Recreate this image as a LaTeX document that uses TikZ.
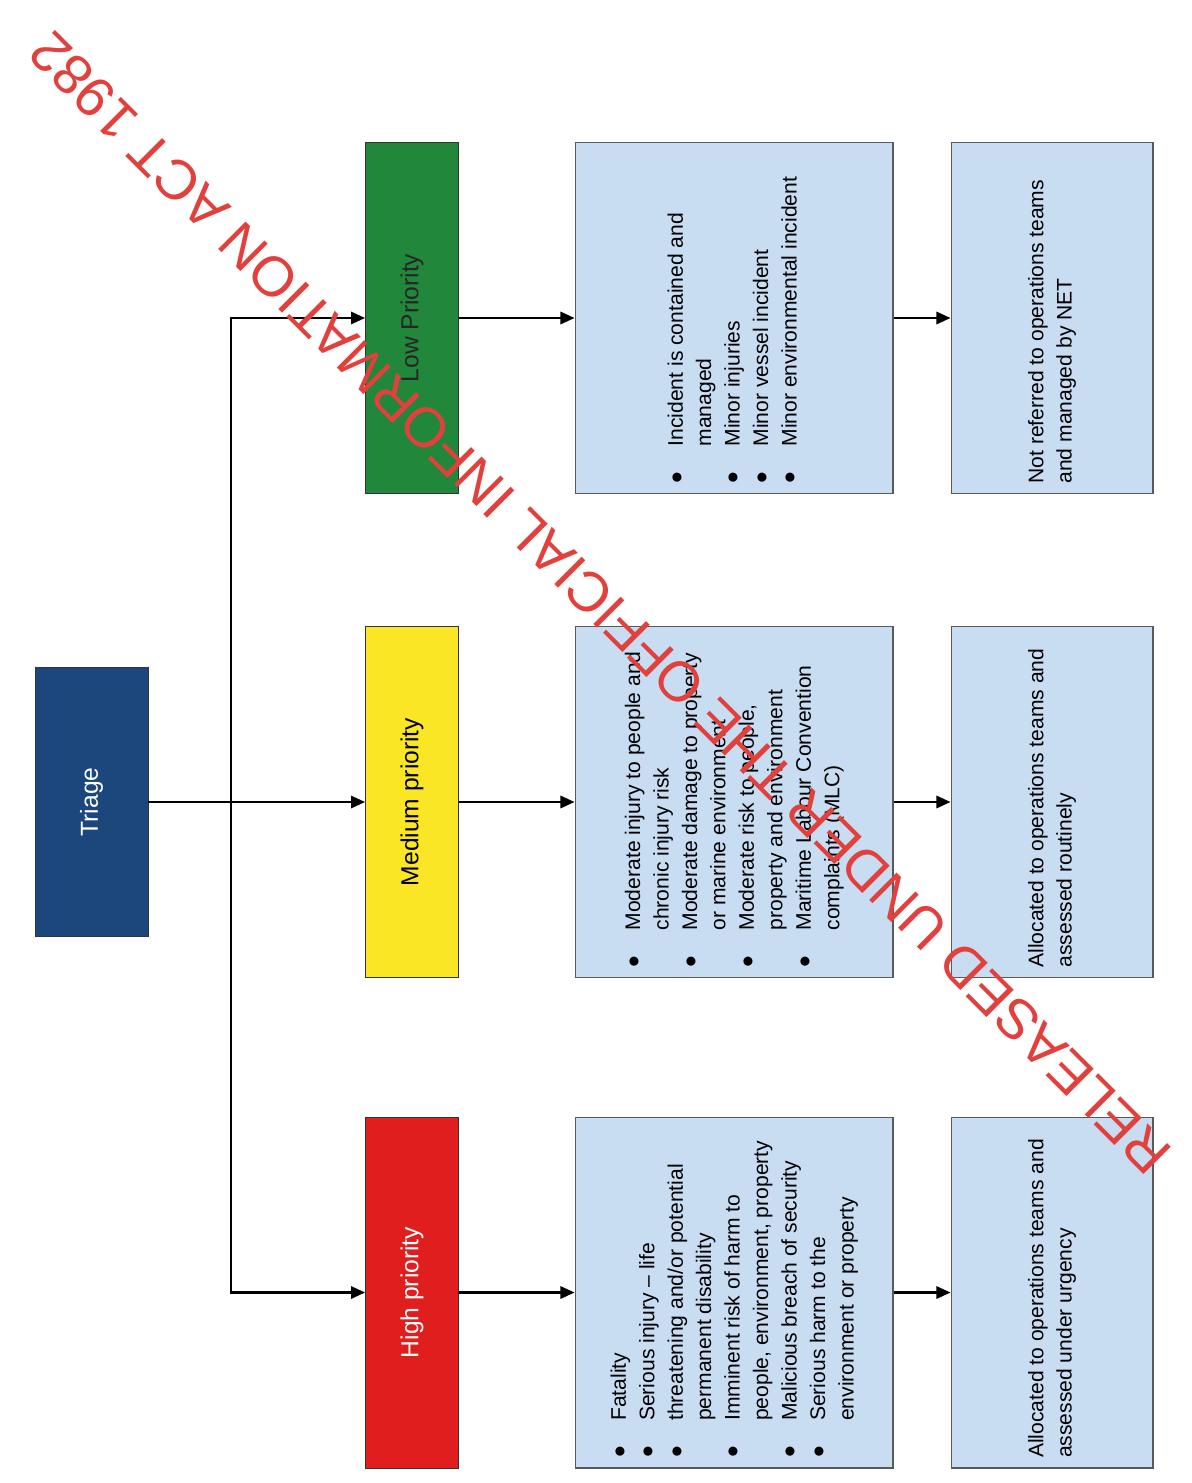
\documentclass[tikz,border=0pt]{standalone}
\usepackage{fontspec}
\setmainfont{Liberation Sans}
\usepackage{graphicx}
\usetikzlibrary{arrows.meta}

\definecolor{triageblue}{HTML}{1B477D}
\definecolor{lowgreen}{HTML}{21873A}
\definecolor{medyellow}{HTML}{FBE625}
\definecolor{highred}{HTML}{E01E1E}
\definecolor{paleblue}{HTML}{C8DCF2}
\definecolor{stampred}{HTML}{E2403C}

% text turned to read upwards
\newcommand{\uplabel}[1]{\rotatebox{90}{#1}}
\newcommand{\upnote}[1]{\rotatebox{90}{\parbox{6.62cm}{\fontsize{12}{16}\selectfont #1}}}
\newcommand{\uplist}[1]{\rotatebox{90}{\parbox{6.62cm}{\fontsize{12}{16.2}\selectfont
  \begin{tabular}{@{}l@{\hspace{14.5pt}}l@{}}#1\end{tabular}}}}
\newcommand{\bdot}{\raisebox{-3pt}[0pt][0pt]{\fontsize{19}{16}\selectfont\textbullet}}

\begin{document}
\begin{tikzpicture}[x=0.02cm,y=-0.02cm,
  prio/.style={draw=black!80,line width=0.5pt,minimum width=1.86cm,minimum height=7.02cm,
    inner sep=0pt,font=\fontsize{14}{16}\selectfont},
  listbox/.style={draw=black!65,fill=paleblue,line width=0.6pt,minimum width=6.36cm,
    minimum height=7.02cm,inner sep=0pt},
  notebox/.style={draw=black!65,fill=paleblue,line width=0.6pt,minimum width=4.04cm,
    minimum height=7.02cm,inner sep=0pt},
  link/.style={line width=1.3pt,-{Triangle[length=8pt,width=7pt]}},
  stamp/.style={text=stampred,font=\fontsize{32}{34}\selectfont,inner sep=0pt}]
\useasboundingbox (0,0) rectangle (1192,1483);

%triage
\node[draw=black!80,fill=triageblue,text=white,minimum width=2.26cm,minimum height=5.38cm,
  font=\fontsize{14}{16}\selectfont] (triage) at (91.5,802) {\uplabel{Triage}};

%priorities
\node[prio,fill=lowgreen,text=black!85] (low) at (412,318) {\uplabel{Low Priority}};
\node[prio,fill=medyellow,text=black] (medium) at (412,802) {\uplabel{Medium priority}};
\node[prio,fill=highred,text=white] (high) at (412,1292.5) {\uplabel{High priority}};

%what each priority covers
\node[listbox] (lowlist) at (734,318) {\uplist{%
  \bdot & Incident is contained and\\
        & managed\\
  \bdot & Minor injuries\\
  \bdot & Minor vessel incident\\
  \bdot & Minor environmental incident}};
\node[listbox] (medlist) at (734,802) {\uplist{%
  \bdot & Moderate injury to people and\\
        & chronic injury risk\\
  \bdot & Moderate damage to property\\
        & or marine environment\\
  \bdot & Moderate risk to people,\\
        & property and environment\\
  \bdot & Maritime Labour Convention\\
        & complaints (MLC)}};
\node[listbox] (highlist) at (734,1292.5) {\uplist{%
  \bdot & Fatality\\
  \bdot & Serious injury -- life\\
  \bdot & threatening and/or potential\\
        & permanent disability\\
  \bdot & Imminent risk of harm to\\
        & people, environment, property\\
  \bdot & Malicious breach of security\\
  \bdot & Serious harm to the\\
        & environment or property}};

%outcome
\node[notebox] (lownote) at (1052,318) {\upnote{Not referred to operations teams\\and managed by NET}};
\node[notebox] (mednote) at (1052,802) {\upnote{Allocated to operations teams and\\assessed routinely}};
\node[notebox] (highnote) at (1052,1292.5) {\upnote{Allocated to operations teams and\\assessed under urgency}};

%arrows
\coordinate (split) at (231,802);
\draw[link] (triage) -- (medium);
\draw[link] (split) |- (low);
\draw[link] (split) |- (high);
\draw[link] (low) -- (lowlist);
\draw[link] (medium) -- (medlist);
\draw[link] (high) -- (highlist);
\draw[link] (lowlist) -- (lownote);
\draw[link] (medlist) -- (mednote);
\draw[link] (highlist) -- (highnote);

%release stamp
\node[stamp,rotate=135] (release) at (600,603) {RELEASED UNDER THE OFFICIAL INFORMATION ACT 1982};

\end{tikzpicture}
\end{document}
